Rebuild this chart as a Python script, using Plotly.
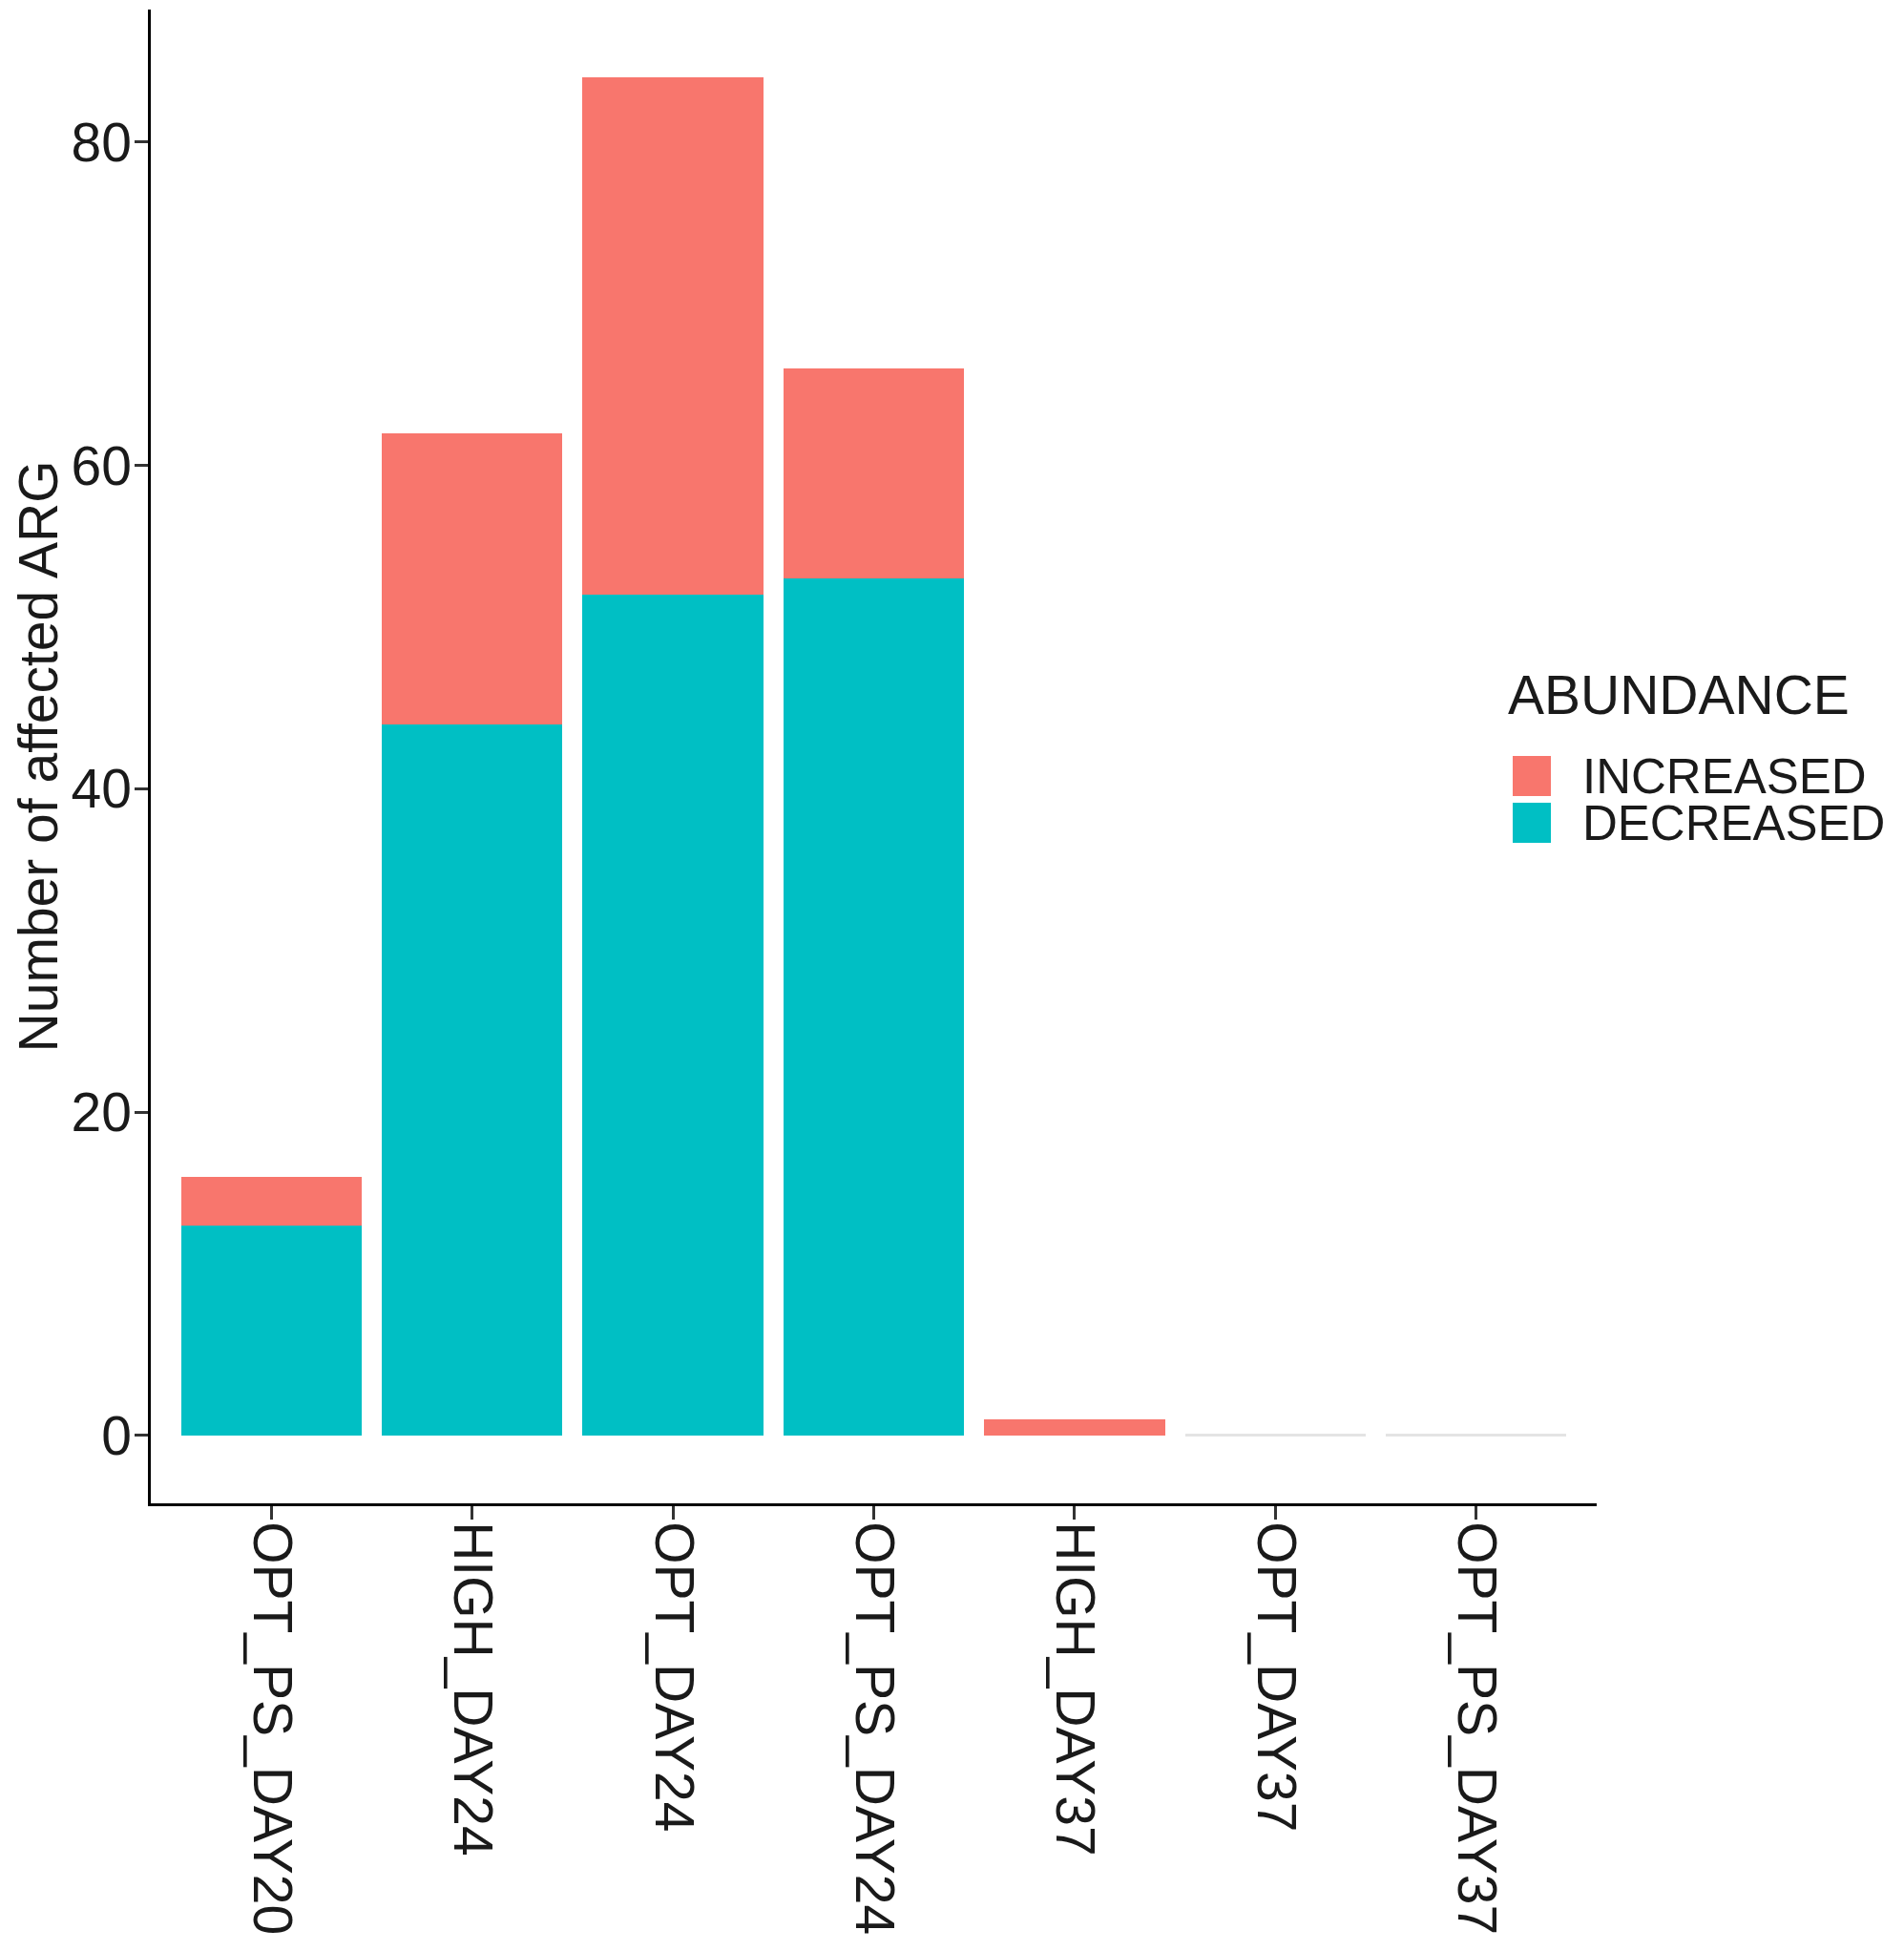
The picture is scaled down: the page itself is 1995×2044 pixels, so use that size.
import plotly.graph_objects as go

# data
samples = ["OPT_PS_DAY20", "HIGH_DAY24", "OPT_DAY24", "OPT_PS_DAY24",
           "HIGH_DAY37", "OPT_DAY37", "OPT_PS_DAY37"]
decreased = [13, 44, 52, 53, 0, 0, 0]
increased = [3, 18, 32, 13, 1, 0, 0]

series_names = ["INCREASED", "DECREASED"]
series_colors = ["#F8766D", "#00BFC4"]

FONT = "Liberation Sans, Arial, sans-serif"
TXT = "#1a1a1a"

totals = [d + i for d, i in zip(decreased, increased)]
# empty groups show only a faint outline at zero, as in the source
zero_line = ["#e4e4e4" if t == 0 else "rgba(0,0,0,0)" for t in totals]

fig = go.Figure()
fig.add_trace(go.Bar(
    x=samples, y=decreased, name="DECREASED", width=0.9,
    marker=dict(color=series_colors[1], line=dict(width=0)),
    showlegend=False
))
fig.add_trace(go.Bar(
    x=samples, y=increased, name="INCREASED", width=0.9,
    marker=dict(color=series_colors[0], line=dict(width=3, color=zero_line)),
    showlegend=False
))

ML, MR, MT, MB = 150, 330, 2, 477
fig.update_layout(
    barmode="stack",
    width=1995, height=2044,
    margin=dict(l=ML, r=MR, t=MT, b=MB),
    plot_bgcolor="white", paper_bgcolor="white",
    font=dict(family=FONT, size=57, color=TXT),
)
fig.update_xaxes(
    range=[-0.6, 6.6], showline=True, linecolor="black", linewidth=2.5,
    ticks="outside", ticklen=14, tickwidth=2.5, tickcolor="#333333",
    tickangle=90, tickfont=dict(size=57, color=TXT), showgrid=False,
    zeroline=False, ticklabelstandoff=-9,
)
fig.update_yaxes(
    range=[-4.2, 88.2], showline=True, linecolor="black", linewidth=2.5,
    ticks="outside", ticklen=14, tickwidth=2.5, tickcolor="#333333",
    tickvals=[0, 20, 40, 60, 80], tickfont=dict(size=57, color=TXT),
    showgrid=False, zeroline=False, ticklabelstandoff=-8,
    title=dict(text="Number of affected ARG", font=dict(size=57, color=TXT), standoff=14),
)

# legend drawn by hand so the keys can be as large as in the original
plot_w, plot_h = 1995 - ML - MR, 2044 - MT - MB
bottom_px = 2044 - MB


def px_x(p):
    return (p - ML) / plot_w


def px_y(p):
    return (bottom_px - p) / plot_h


key_px, gap_px = 42, 7
fig.add_annotation(
    text="ABUNDANCE", xref="paper", yref="paper", x=px_x(1570), y=px_y(720),
    xanchor="left", yanchor="middle", showarrow=False,
    font=dict(family=FONT, size=57, color=TXT)
)
for k, (name, col) in enumerate(zip(series_names, series_colors)):
    top = 784 + k * (key_px + gap_px)
    fig.add_shape(
        type="rect", xref="paper", yref="paper",
        x0=px_x(1577), x1=px_x(1617), y0=px_y(top + key_px), y1=px_y(top),
        fillcolor=col, line=dict(width=0)
    )
    fig.add_annotation(
        text=name, xref="paper", yref="paper", x=px_x(1648), y=px_y(top + key_px / 2),
        xanchor="left", yanchor="middle", showarrow=False,
        font=dict(family=FONT, size=51, color=TXT)
    )

fig.write_html("out.html")
